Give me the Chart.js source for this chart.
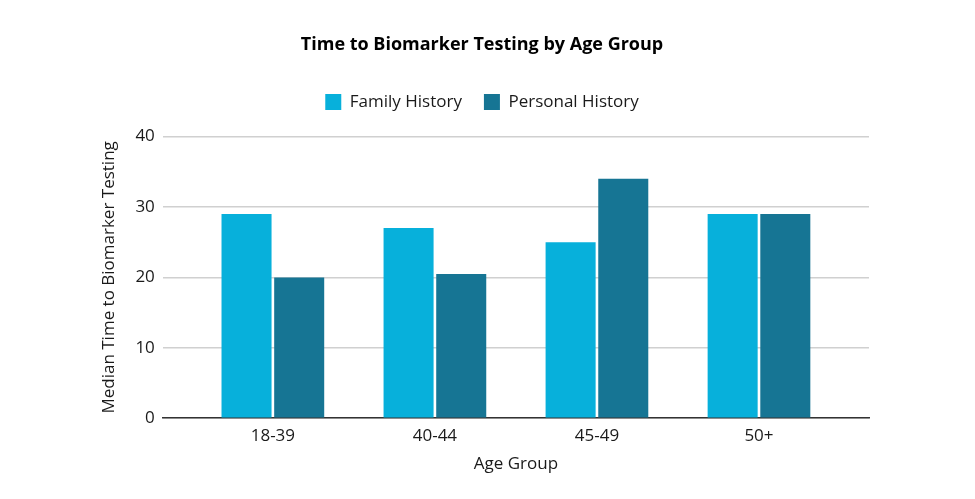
<!DOCTYPE html>
<html>
<head>
<meta charset="utf-8">
<script src="https://cdn.jsdelivr.net/npm/chart.js@4.4.1/dist/chart.umd.min.js"></script>
<style>
  html, body { margin: 0; padding: 0; background: #fff; }
  #wrap { width: 975px; height: 499px; }
</style>
</head>
<body>
<div id="wrap"><canvas id="myCanvas" width="975" height="499"></canvas></div>
<script>
// data
const ageGroups = ['18-39', '40-44', '45-49', '50+'];
const familyHistory = [29, 27, 25, 29];
const personalHistory = [20, 20.5, 34, 29];

const FONT = "'Open Sans', 'Noto Sans', sans-serif";
const TEXT = '#1a1a1a';

// a bit more room under the legend
const legendGap = {
    id: 'legendGap',
    beforeInit(chart) {
        const fit = chart.legend.fit;
        chart.legend.fit = function () {
            fit.bind(chart.legend)();
            this.height += 16;
        };
    }
};

var ctx = document.getElementById('myCanvas');
new Chart(ctx, {
    type: 'bar',
    data: {
        labels: ageGroups,
        datasets: [{
            label: 'Family History',
            data: familyHistory,
            backgroundColor: '#07b0db',
            borderWidth: 0
        }, {
            label: 'Personal History',
            data: personalHistory,
            backgroundColor: '#167594',
            borderWidth: 0
        }]
    },
    plugins: [legendGap],
    options: {
        responsive: false,
        animation: false,
        maintainAspectRatio: false,
        categoryPercentage: 0.65,
        barPercentage: 0.95,
        layout: { padding: { left: 95, right: 106, top: 34, bottom: 21 } },
        plugins: {
            title: {
                display: true,
                text: 'Time to Biomarker Testing by Age Group',
                color: '#000',
                font: { family: FONT, size: 18, weight: 'bold' },
                padding: { top: 0, bottom: 16 }
            },
            legend: {
                display: true,
                labels: {
                    color: TEXT,
                    boxWidth: 16,
                    boxHeight: 16,
                    padding: 22,
                    font: { family: FONT, size: 17 }
                }
            },
            tooltip: { enabled: false }
        },
        scales: {
            x: {
                // widen the axis a little past the outer groups, like the reference
                afterBuildTicks: (scale) => {
                    const range = 4.358;
                    scale._valueRange = range;
                    scale._startValue = -0.5 - (range - ageGroups.length) / 2;
                },
                grid: { display: false },
                border: { display: true, color: '#333', width: 1.5 },
                ticks: { color: TEXT, padding: 0, font: { family: FONT, size: 17 } },
                title: {
                    display: true,
                    text: 'Age Group',
                    color: TEXT,
                    padding: { top: 7 },
                    font: { family: FONT, size: 17 }
                }
            },
            y: {
                min: 0,
                max: 40,
                ticks: { stepSize: 10, color: TEXT, padding: 8, font: { family: FONT, size: 17 } },
                grid: { color: '#d0d0d0', lineWidth: 1.5, drawTicks: false },
                border: { display: false },
                title: {
                    display: true,
                    text: 'Median Time to Biomarker Testing',
                    color: TEXT,
                    padding: { bottom: 8 },
                    font: { family: FONT, size: 17 }
                }
            }
        }
    }
});
</script>
</body>
</html>
